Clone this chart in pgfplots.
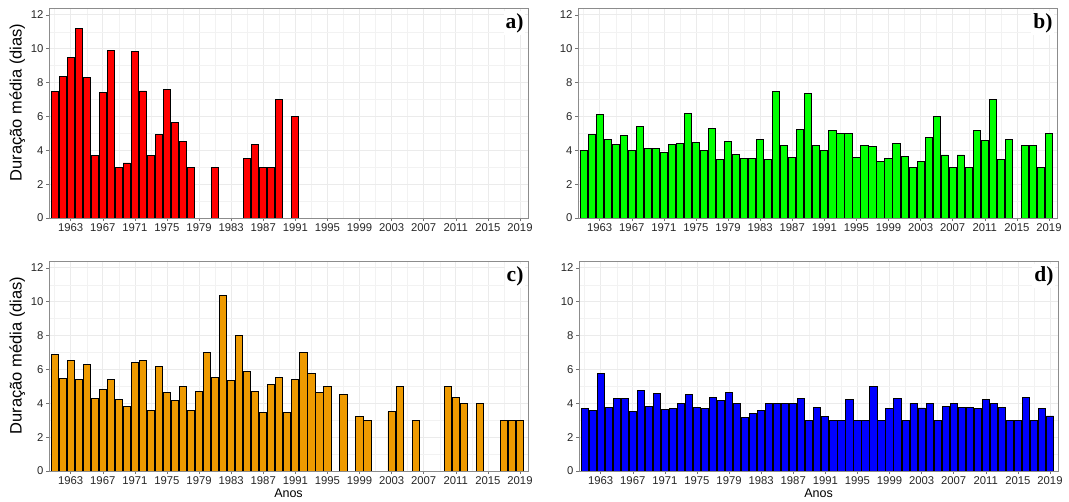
\documentclass[border=0pt]{standalone}
\usepackage{fontspec}
\setmainfont{Liberation Sans}
\newfontfamily\tnr{Liberation Serif}
\usepackage{pgfplots}
\pgfplotsset{compat=1.18}
\definecolor{cred}{HTML}{FF0000}
\definecolor{cgreen}{HTML}{00FF00}
\definecolor{corange}{HTML}{EE9A00}
\definecolor{cblue}{HTML}{0000FF}
\definecolor{gridmaj}{HTML}{EBEBEB}
\definecolor{gridmin}{HTML}{F2F2F2}
\tikzset{
  plab/.style={font=\tnr\bfseries\fontsize{21.5bp}{22bp}\selectfont, fill=white, inner sep=2bp, anchor=north east},
  bars/.style={draw=black, line width=0.9bp, fill=#1},
}
\pgfplotsset{
  panel/.style={
    scale only axis,
    width=479bp, height=210bp,
    anchor=south west,
    xmin=1960.3, xmax=2020.0,
    ymin=0, ymax=12.4,
    xtick={1963,1967,...,2019},
    minor xtick={1961,1965,...,2017},
    ytick={0,2,...,12},
    minor ytick={1,3,...,11},
    grid=both,
    major grid style={draw=gridmaj, line width=0.6bp},
    minor grid style={draw=gridmin, line width=0.35bp},
    axis line style={draw=black!45, line width=0.6bp},
    tick pos=left, tick align=outside,
    major tick length=3bp, minor tick length=0bp,
    tick style={draw=black!55, line width=0.5bp},
    /pgf/number format/1000 sep={},
    /pgf/number format/assume math mode=true,
    tick label style={font=\fontsize{11.3bp}{12bp}\selectfont, text=black!85},
    xticklabel style={yshift=1bp},
    yticklabel style={xshift=1bp},
    ylabel style={font=\fontsize{16.5bp}{17bp}\selectfont, at={(ticklabel cs:0.55)}, yshift=-1bp},
    xlabel style={font=\fontsize{12.5bp}{13bp}\selectfont, yshift=2bp},
    ybar, bar width=0.9,
  },
}
\begin{document}
\begin{tikzpicture}
\useasboundingbox (0,0) rectangle (1069bp,502bp);
% a
\begin{axis}[panel, at={(49bp,284bp)}, ylabel={Duração média (dias)}]
\addplot[bars=cred] coordinates {(1961,7.45)(1962,8.37)(1963,9.5)(1964,11.2)(1965,8.32)(1966,3.67)(1967,7.42)(1968,9.87)(1969,3)(1970,3.25)(1971,9.86)(1972,7.5)(1973,3.67)(1974,4.95)(1975,7.6)(1976,5.64)(1977,4.5)(1978,3)(1981,3)(1985,3.5)(1986,4.33)(1987,3)(1988,3)(1989,7)(1991,6)};
\node[plab] at (rel axis cs:0.995,0.985) {a)};
\end{axis}
% b
\begin{axis}[panel, at={(578bp,284bp)}]
\addplot[bars=cgreen] coordinates {(1961,4.0)(1962,4.91)(1963,6.12)(1964,4.63)(1965,4.34)(1966,4.85)(1967,4.0)(1968,5.43)(1969,4.08)(1970,4.08)(1971,3.88)(1972,4.34)(1973,4.38)(1974,6.16)(1975,4.48)(1976,4.0)(1977,5.31)(1978,3.47)(1979,4.51)(1980,3.76)(1981,3.52)(1982,3.52)(1983,4.63)(1984,3.47)(1985,7.49)(1986,4.26)(1987,3.58)(1988,5.23)(1989,7.33)(1990,4.3)(1991,4.0)(1992,5.17)(1993,5.0)(1994,5.0)(1995,3.58)(1996,4.3)(1997,4.22)(1998,3.31)(1999,3.54)(2000,4.38)(2001,3.64)(2002,3.0)(2003,3.31)(2004,4.73)(2005,6.0)(2006,3.72)(2007,3.0)(2008,3.72)(2009,3.0)(2010,5.17)(2011,4.57)(2012,7.0)(2013,3.47)(2014,4.63)(2016,4.3)(2017,4.3)(2018,3.0)(2019,5.0)};
\node[plab] at (rel axis cs:0.995,0.985) {b)};
\end{axis}
% c
\begin{axis}[panel, at={(49bp,31bp)}, ylabel={Duração média (dias)}, xlabel={Anos}]
\addplot[bars=corange] coordinates {(1961,6.88)(1962,5.49)(1963,6.5)(1964,5.4)(1965,6.28)(1966,4.29)(1967,4.82)(1968,5.38)(1969,4.23)(1970,3.79)(1971,6.42)(1972,6.5)(1973,3.58)(1974,6.19)(1975,4.64)(1976,4.17)(1977,4.98)(1978,3.56)(1979,4.68)(1980,7.0)(1981,5.53)(1982,10.34)(1983,5.32)(1984,7.98)(1985,5.85)(1986,4.72)(1987,3.48)(1988,5.12)(1989,5.5)(1990,3.48)(1991,5.4)(1992,7.0)(1993,5.75)(1994,4.64)(1995,5.0)(1997,4.5)(1999,3.2)(2000,3.0)(2003,3.5)(2004,5.0)(2006,3.0)(2010,5.0)(2011,4.33)(2012,4.0)(2014,4.0)(2017,3.0)(2018,3.0)(2019,3.0)};
\node[plab] at (rel axis cs:0.995,0.985) {c)};
\end{axis}
% d
\begin{axis}[panel, at={(579bp,31bp)}, xlabel={Anos}]
\addplot[bars=cblue] coordinates {(1961,3.67)(1962,3.6)(1963,5.75)(1964,3.75)(1965,4.3)(1966,4.3)(1967,3.5)(1968,4.75)(1969,3.8)(1970,4.6)(1971,3.64)(1972,3.68)(1973,4.0)(1974,4.5)(1975,3.76)(1976,3.68)(1977,4.36)(1978,4.18)(1979,4.66)(1980,4.0)(1981,3.14)(1982,3.4)(1983,3.6)(1984,4.0)(1985,4.0)(1986,4.0)(1987,4.0)(1988,4.28)(1989,3.0)(1990,3.76)(1991,3.2)(1992,3.0)(1993,3.0)(1994,4.2)(1995,3.0)(1996,3.0)(1997,5.0)(1998,3.0)(1999,3.68)(2000,4.3)(2001,3.0)(2002,4.0)(2003,3.72)(2004,4.0)(2005,3.0)(2006,3.8)(2007,4.0)(2008,3.76)(2009,3.76)(2010,3.68)(2011,4.2)(2012,4.0)(2013,3.75)(2014,3.0)(2015,3.0)(2016,4.36)(2017,3.0)(2018,3.68)(2019,3.25)};
\node[plab] at (rel axis cs:0.995,0.985) {d)};
\end{axis}
\end{tikzpicture}
\end{document}
